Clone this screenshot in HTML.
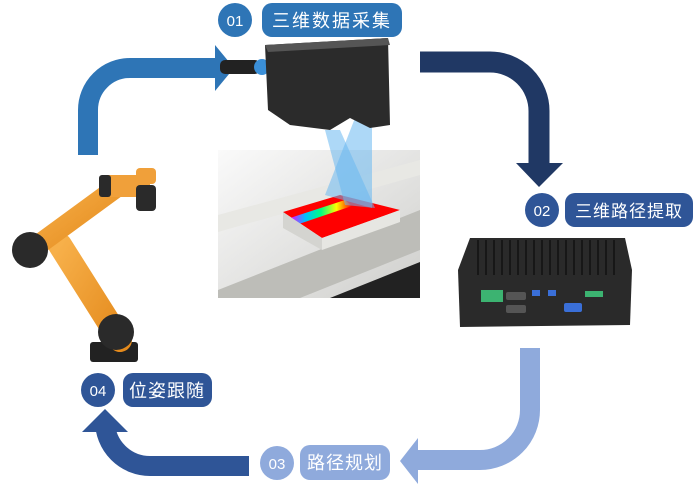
<!DOCTYPE html>
<html><head><meta charset="utf-8"><style>
html,body{margin:0;padding:0;background:#fff;}
svg{display:block}
text{font-family:"Liberation Sans","Noto Sans CJK SC",sans-serif;fill:#fff}
</style></head><body>
<svg width="697" height="487" viewBox="0 0 697 487" xmlns="http://www.w3.org/2000/svg">
<defs>
<linearGradient id="bg1" x1="0" y1="0" x2="1" y2="1"><stop offset="0" stop-color="#fafafa"/><stop offset="1" stop-color="#cfcfcc"/></linearGradient>
<linearGradient id="rb" x1="0" y1="0" x2="1" y2="0"><stop offset="0" stop-color="#ff00ff"/><stop offset=".25" stop-color="#00c0ff"/><stop offset=".5" stop-color="#00ff80"/><stop offset=".75" stop-color="#ffff00"/><stop offset="1" stop-color="#ff0000"/></linearGradient>
<linearGradient id="or" x1="0" y1="0" x2="1" y2="1"><stop offset="0" stop-color="#f7b04a"/><stop offset="1" stop-color="#e48a1c"/></linearGradient>
</defs>
<path d="M88 155 V110 A42 42 0 0 1 130 68 H217" fill="none" stroke="#2E75B6" stroke-width="20"/>
<polygon points="215,45 234,68 215,91" fill="#2E75B6"/>
<path d="M420 62 H490 A49 49 0 0 1 539 111 V165" fill="none" stroke="#203864" stroke-width="21"/>
<polygon points="516,163 563,163 539,187" fill="#203864"/>
<path d="M530 348 V410 A50 50 0 0 1 480 460 H416" fill="none" stroke="#8FAADC" stroke-width="20"/>
<polygon points="418,438 400,461 418,484" fill="#8FAADC"/>
<path d="M249 466 H150 A45 45 0 0 1 105 421 V430" fill="none" stroke="#2F5597" stroke-width="20"/>
<polygon points="82,432 128,432 105,409" fill="#2F5597"/>

<rect x="218" y="150" width="202" height="148" fill="url(#bg1)"/>
<polygon points="218,215 420,160 420,175 218,232" fill="#e8e8e4"/>
<polygon points="218,290 420,210 420,250 300,298 218,298" fill="#bdbdb8"/>
<polygon points="330,298 420,262 420,298" fill="#222"/>
<polygon points="283,212 340,195 400,210 322,238" fill="#ff0000"/>
<polygon points="290,218 345,200 352,206 296,225" fill="url(#rb)"/>
<polygon points="322,238 400,210 400,222 322,250" fill="#e6e6e2"/>
<polygon points="283,212 322,238 322,250 283,228" fill="#d4d4d0"/>
<polygon points="325,130 340,130 375,208 345,205" fill="#6ab8f0" opacity=".55"/>
<polygon points="355,118 372,118 372,208 325,195" fill="#6ab8f0" opacity=".55"/>
<rect x="220" y="60" width="40" height="14" rx="5" fill="#222"/>
<circle cx="262" cy="67" r="8" fill="#3a8fd8"/>
<polygon points="265,45 388,38 390,125 370,128 350,118 330,130 290,125 268,110" fill="#2b2b2b"/>
<polygon points="265,45 388,38 390,45 268,52" fill="#555"/>
<polygon points="470,238 625,238 632,270 630,325 460,327 458,270" fill="#2a2a2a"/>
<g stroke="#111" stroke-width="1.5">
<path d="M478 240v35M486 240v35M494 240v35M502 240v35M510 240v35M518 240v35M526 240v35M534 240v35M542 240v35M550 240v35M558 240v35M566 240v35M574 240v35M582 240v35M590 240v35M598 240v35M606 240v35M614 240v35"/>
</g>
<rect x="481" y="290" width="22" height="12" fill="#3cb371"/>
<rect x="506" y="292" width="20" height="8" rx="2" fill="#555"/>
<rect x="506" y="305" width="20" height="8" rx="2" fill="#555"/>
<rect x="532" y="290" width="8" height="6" fill="#3a6fd8"/><rect x="548" y="290" width="8" height="6" fill="#3a6fd8"/>
<rect x="564" y="303" width="18" height="9" rx="2" fill="#3a6fd8"/>
<rect x="585" y="291" width="18" height="6" fill="#3cb371"/>
<rect x="90" y="342" width="48" height="20" rx="3" fill="#222"/>
<path d="M120 340 L60 245" stroke="url(#or)" stroke-width="24" stroke-linecap="round"/>
<path d="M38 245 L120 185" stroke="url(#or)" stroke-width="20" stroke-linecap="round"/>
<rect x="100" y="175" width="50" height="22" rx="6" fill="#f0a03a"/>
<circle cx="116" cy="332" r="18" fill="#2a2a2a"/>
<circle cx="30" cy="250" r="18" fill="#2a2a2a"/>
<rect x="99" y="175" width="12" height="22" rx="3" fill="#2a2a2a"/>
<rect x="136" y="185" width="20" height="26" rx="4" fill="#2a2a2a"/>
<rect x="136" y="168" width="20" height="16" rx="4" fill="#f0a03a"/>

<circle cx="235" cy="20" r="17" fill="#2E75B6"/><text x="235" y="26" font-size="15" text-anchor="middle">01</text>
<rect x="262" y="3" width="140" height="34" rx="10" fill="#2E75B6"/><text x="332" y="27" font-size="18" text-anchor="middle" letter-spacing="2">三维数据采集</text>
<circle cx="542" cy="210" r="17" fill="#2F5597"/><text x="542" y="216" font-size="15" text-anchor="middle">02</text>
<rect x="565" y="193" width="128" height="34" rx="10" fill="#2F5597"/><text x="629" y="217" font-size="17" text-anchor="middle" letter-spacing="1">三维路径提取</text>
<circle cx="277" cy="463" r="17" fill="#8FAADC"/><text x="277" y="469" font-size="15" text-anchor="middle">03</text>
<rect x="300" y="445" width="90" height="35" rx="10" fill="#8FAADC"/><text x="345" y="469" font-size="18" text-anchor="middle" letter-spacing="1">路径规划</text>
<circle cx="98" cy="390" r="17" fill="#2F5597"/><text x="98" y="396" font-size="15" text-anchor="middle">04</text>
<rect x="123" y="373" width="89" height="34" rx="10" fill="#2F5597"/><text x="167" y="397" font-size="18" text-anchor="middle" letter-spacing="1">位姿跟随</text>
</svg>
</body></html>
